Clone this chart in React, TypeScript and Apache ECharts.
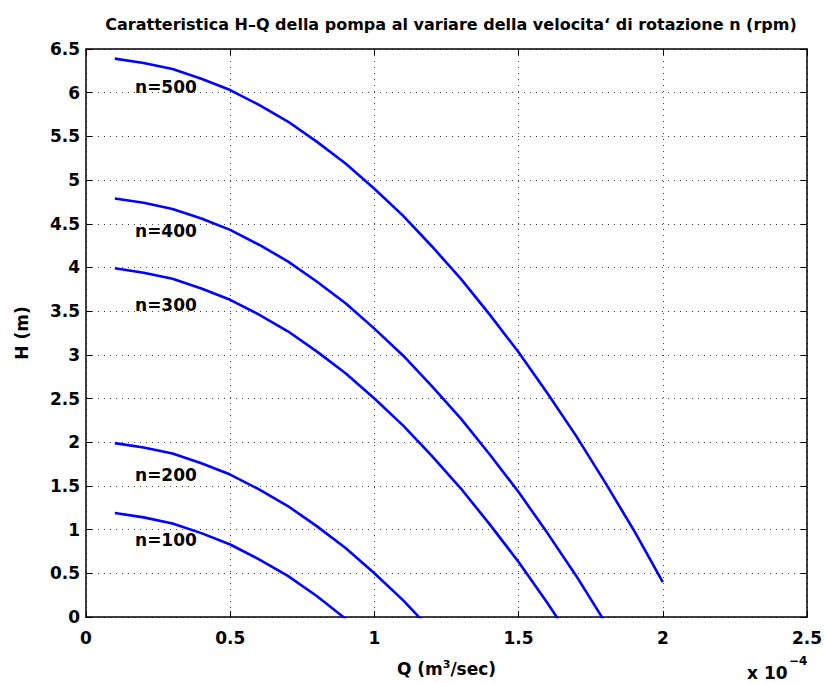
import React, { useEffect, useRef } from "react";
import * as echarts from "echarts";

const titleText = "Caratteristica H\u2013Q della pompa al variare della velocita\u2018 di rotazione n (rpm)";
const qValues = [0.1, 0.2, 0.3, 0.4, 0.5, 0.6, 0.7, 0.8, 0.9, 1.0, 1.1, 1.2, 1.3, 1.4, 1.5, 1.6, 1.7, 1.8, 1.9, 2.0];
const h500 = [6.39, 6.34, 6.27, 6.16, 6.03, 5.86, 5.67, 5.44, 5.19, 4.9, 4.59, 4.24, 3.87, 3.46, 3.03, 2.56, 2.07, 1.54, 0.99, 0.4];
const h400 = [4.79, 4.74, 4.67, 4.56, 4.43, 4.26, 4.07, 3.84, 3.59, 3.3, 2.99, 2.64, 2.27, 1.86, 1.43, 0.96, 0.47, -0.06, -0.62, -1.2];
const h300 = [3.99, 3.94, 3.87, 3.76, 3.63, 3.46, 3.27, 3.04, 2.79, 2.5, 2.19, 1.84, 1.47, 1.06, 0.63, 0.16, -0.34, -0.86, -1.42, -2.0];
const h200 = [1.99, 1.94, 1.87, 1.76, 1.63, 1.46, 1.27, 1.04, 0.79, 0.5, 0.19, -0.16, -0.54];
const h100 = [1.19, 1.14, 1.07, 0.96, 0.83, 0.66, 0.47, 0.24, -0.02, -0.3];
const curveNames = ["n=500", "n=400", "n=300", "n=200", "n=100"];
const labelQ = [0.17, 0.17, 0.17, 0.17, 0.17];
const labelH = [6.06, 4.42, 3.57, 1.62, 0.88];
const scaleBase = "x 10";
const scaleExp = "\u22124";

const FONT = "DejaVu Sans";

function zip(h: number[]) {
  return h.map((v, i) => [qValues[i], v]);
}

export default function App() {
  const ref = useRef<HTMLDivElement>(null);
  useEffect(() => {
    const chart = echarts.init(ref.current!, undefined, { renderer: "svg" });
    const tickStyle = { show: true, inside: true, length: 6, lineStyle: { color: "#000", width: 1 } };
    const axisLine = { show: true, onZero: false, lineStyle: { color: "#000", width: 1.5 } };
    const gridLine = { show: true, lineStyle: { color: "#444", width: 1, type: [1, 5] as any } };
    const labelStyle = { color: "#000", fontFamily: FONT, fontWeight: "bold" as const, fontSize: 17 };
    const allH = [h500, h400, h300, h200, h100];
    chart.setOption({
      animation: false,
      backgroundColor: "#fff",
      title: {
        text: titleText,
        left: 446,
        top: 11,
        textAlign: "center",
        textStyle: { color: "#000", fontFamily: FONT, fontWeight: "bold", fontSize: 16 },
      },
      grid: { left: 86, right: 19, top: 49, bottom: 66, containLabel: false },
      xAxis: [
        {
          type: "value",
          min: 0,
          max: 2.5,
          interval: 0.5,
          position: "bottom",
          axisLine,
          axisTick: tickStyle,
          splitLine: gridLine,
          axisLabel: { ...labelStyle, margin: 12 },
          name: "Q (m{sup|3}/sec)",
          nameLocation: "middle",
          nameGap: 42,
          nameTextStyle: {
            ...labelStyle,
            rich: {
              sup: { fontFamily: FONT, fontWeight: "bold", fontSize: 11, color: "#000", verticalAlign: "top", padding: [0, 0, 8, 0] },
            },
          },
        },
        {
          type: "value",
          min: 0,
          max: 2.5,
          interval: 0.5,
          position: "top",
          axisLine,
          axisTick: tickStyle,
          splitLine: { show: false },
          axisLabel: { show: false },
        },
      ],
      yAxis: [
        {
          type: "value",
          min: 0,
          max: 6.5,
          interval: 0.5,
          position: "left",
          axisLine,
          axisTick: tickStyle,
          splitLine: gridLine,
          axisLabel: { ...labelStyle, margin: 6 },
          name: "H (m)",
          nameLocation: "middle",
          nameGap: 56,
          nameTextStyle: labelStyle,
        },
        {
          type: "value",
          min: 0,
          max: 6.5,
          interval: 0.5,
          position: "right",
          axisLine,
          axisTick: tickStyle,
          splitLine: { show: false },
          axisLabel: { show: false },
        },
      ],
      graphic: [
        {
          type: "text",
          x: 747,
          y: 673,
          style: {
            text: scaleBase,
            fill: "#000",
            font: `bold 17px "${FONT}"`,
            textVerticalAlign: "middle",
            lineHeight: 17,
          },
        },
        {
          type: "text",
          x: 789,
          y: 661,
          style: {
            text: scaleExp,
            fill: "#000",
            font: `bold 12px "${FONT}"`,
            textVerticalAlign: "middle",
            lineHeight: 12,
          },
        },
      ],
      series: [
        ...allH.map((h, i) => ({
          type: "line",
          name: curveNames[i],
          xAxisIndex: 0,
          yAxisIndex: 0,
          data: zip(h),
          showSymbol: false,
          symbol: "none",
          clip: true,
          lineStyle: { color: "#0000ff", width: 2.6 },
          itemStyle: { color: "#0000ff" },
          silent: true,
        })),
        {
          type: "scatter",
          xAxisIndex: 0,
          yAxisIndex: 0,
          symbolSize: 0,
          itemStyle: { color: "#000", opacity: 1 },
          data: curveNames.map((n, i) => ({ value: [labelQ[i], labelH[i]], name: n })),
          label: {
            show: true,
            position: "right",
            distance: 0,
            formatter: (p: any) => p.name,
            ...labelStyle,
            opacity: 1,
          },
          silent: true,
        },
      ],
    });
    return () => chart.dispose();
  }, []);
  return <div ref={ref} style={{ position: "fixed", left: 0, top: 0, width: 826, height: 683 }} />;
}
